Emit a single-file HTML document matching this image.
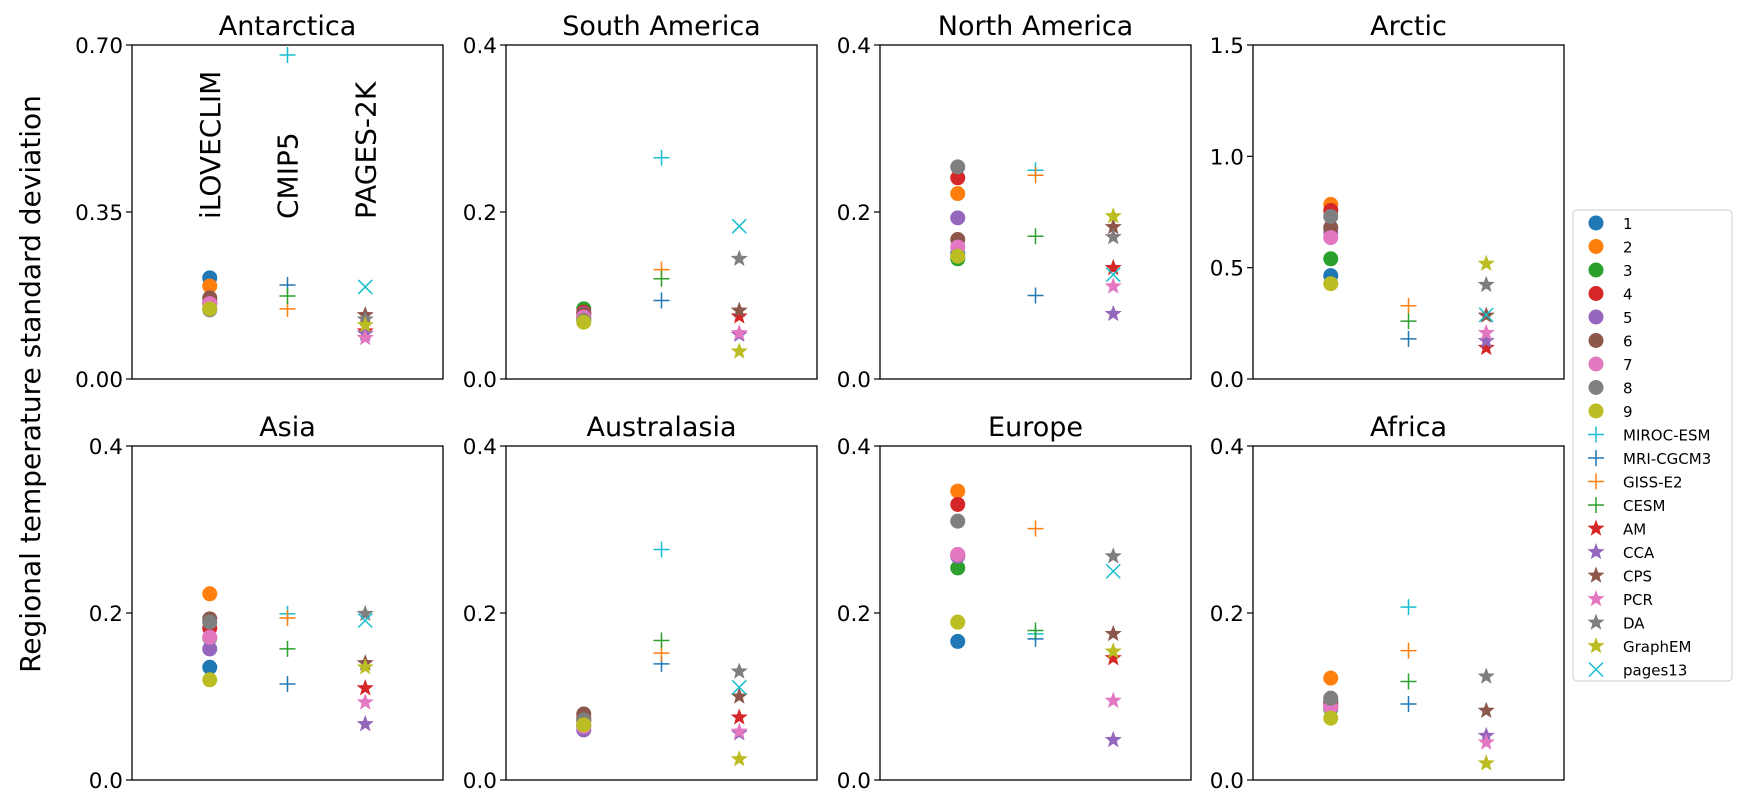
<!DOCTYPE html>
<html><head><meta charset="utf-8"><style>
html,body{margin:0;padding:0;background:#fff;}
svg{display:block;font-family:"DejaVu Sans","Liberation Sans",sans-serif;}
</style></head><body>
<svg id="chart" width="1748" height="804" viewBox="0 0 1748 804" xmlns="http://www.w3.org/2000/svg">
<text x="40" y="384" font-size="28" text-anchor="middle" transform="rotate(-90 40 384)">Regional temperature standard deviation</text>
<g id="panels"></g>
<g id="legend"></g>
</svg>
<script>
const regions = ["Antarctica","South America","North America","Arctic","Asia","Australasia","Europe","Africa"];
const yMax = [0.7,0.4,0.4,1.5,0.4,0.4,0.4,0.4];
const yTicks = [["0.00","0.35","0.70"],["0.0","0.2","0.4"],["0.0","0.2","0.4"],["0.0","0.5","1.0","1.5"],["0.0","0.2","0.4"],["0.0","0.2","0.4"],["0.0","0.2","0.4"],["0.0","0.2","0.4"]];
const circleLabels = ["1","2","3","4","5","6","7","8","9"];
const circleVals = [
 [0.212,0.195,0.158,0.160,0.162,0.170,0.158,0.145,0.147],
 [0.072,0.074,0.084,0.080,0.078,0.077,0.074,0.070,0.068],
 [0.150,0.222,0.144,0.241,0.193,0.167,0.158,0.254,0.147],
 [0.464,0.784,0.540,0.757,0.660,0.680,0.635,0.730,0.428],
 [0.135,0.223,0.170,0.182,0.157,0.193,0.171,0.189,0.120],
 [0.065,0.070,0.072,0.075,0.060,0.079,0.064,0.072,0.066],
 [0.166,0.346,0.254,0.330,0.268,0.270,0.270,0.310,0.189],
 [0.093,0.122,0.085,0.090,0.087,0.095,0.087,0.098,0.074]
];
const cmipLabels = ["MIROC-ESM","MRI-CGCM3","GISS-E2","CESM"];
const cmipVals = [
 [0.679,0.197,0.147,0.174],
 [0.265,0.094,0.131,0.120],
 [0.250,0.100,0.244,0.171],
 [null,0.180,0.329,0.260],
 [0.199,0.115,0.194,0.157],
 [0.276,0.139,0.152,0.167],
 [0.175,0.169,0.301,0.179],
 [0.207,0.091,0.155,0.118]
];
const pagesLabels = ["AM","CCA","CPS","PCR","DA","GraphEM","pages13"];
const pagesVals = [
 [0.100,0.095,0.134,0.086,0.125,0.113,0.193],
 [0.075,0.053,0.082,0.055,0.144,0.033,0.183],
 [0.133,0.078,0.182,0.111,0.170,0.195,0.125],
 [0.140,0.171,0.285,0.207,0.423,0.518,0.288],
 [0.110,0.067,0.140,0.093,0.199,0.135,0.191],
 [0.075,0.056,0.100,0.058,0.130,0.025,0.111],
 [0.146,0.048,0.175,0.095,0.268,0.154,0.250],
 [null,0.053,0.083,0.045,0.124,0.020,null]
];
const circleColors = ["#1f77b4","#ff7f0e","#2ca02c","#d62728","#9467bd","#8c564b","#e377c2","#7f7f7f","#bcbd22"];
const cmipColors = ["#17becf","#1f77b4","#ff7f0e","#2ca02c"];
const pagesColors = ["#d62728","#9467bd","#8c564b","#e377c2","#7f7f7f","#bcbd22","#17becf"];

const NS = "http://www.w3.org/2000/svg";
const panelsG = document.getElementById("panels");
const PW = 311, PH = 334;
const lefts = [132,506,880,1253];
const tops = [45,446];
function mk(tag, attrs, parent){ const e=document.createElementNS(NS,tag); for(const k in attrs) e.setAttribute(k,attrs[k]); if(parent) parent.appendChild(e); return e; }
function starPath(cx,cy,R){ let d=""; const r=R*0.42; for(let i=0;i<10;i++){ const a=-Math.PI/2+i*Math.PI/5; const rr=i%2?r:R; d+=(i?"L":"M")+(cx+rr*Math.cos(a)).toFixed(2)+","+(cy+rr*Math.sin(a)).toFixed(2);} return d+"Z"; }
function drawMarker(g,type,cx,cy,color){
  if(type==="circle") return mk("circle",{cx:cx,cy:cy,r:7.5,fill:color},g);
  if(type==="plus") return mk("path",{d:`M${cx-8},${cy}H${cx+8}M${cx},${cy-8}V${cy+8}`,stroke:color,"stroke-width":1.5,fill:"none"},g);
  if(type==="star") return mk("path",{d:starPath(cx,cy,9),fill:color},g);
  if(type==="x") return mk("path",{d:`M${cx-7},${cy-7}L${cx+7},${cy+7}M${cx-7},${cy+7}L${cx+7},${cy-7}`,stroke:color,"stroke-width":1.5,fill:"none"},g);
}
regions.forEach((name,i)=>{
  const L=lefts[i%4], T=tops[Math.floor(i/4)];
  const g=mk("g",{},panelsG);
  
  
  const yScale=v=>T+PH-v/yMax[i]*PH;
  const xScale=x=>L+x/4*PW;
  const title=mk("text",{x:L+PW/2,y:T-10,"font-size":27,"text-anchor":"middle"},g);
  title.textContent=name;
  
  
  const ticks=yTicks[i];
  ticks.forEach((t,k)=>{
    const y=yScale(parseFloat(t));
    mk("line",{x1:L-6,x2:L,y1:y,y2:y,stroke:"#000","stroke-width":1.2},g);
    const tl=mk("text",{x:L-9,y:y+8,"font-size":21.5,"text-anchor":"end"},g);
    tl.textContent=t;
    
    
  });
  const marks=mk("g",{},g);
  circleVals[i].forEach((v,k)=>{ if(v==null) return; const m=drawMarker(marks,"circle",xScale(1),yScale(v),circleColors[k]);
    
     });
  cmipVals[i].forEach((v,k)=>{ if(v==null) return; const m=drawMarker(marks,"plus",xScale(2),yScale(v),cmipColors[k]);
    
     });
  pagesVals[i].forEach((v,k)=>{ if(v==null) return; const m=drawMarker(marks,k===6?"x":"star",xScale(3),yScale(v),pagesColors[k]);
    
     });
  const frame=mk("rect",{x:L,y:T,width:PW,height:PH,fill:"none",stroke:"#000","stroke-width":1.3},g);
  
  
  if(i===0){
    ["iLOVECLIM","CMIP5","PAGES-2K"].forEach((s,k)=>{
      const x=xScale(k+1)+10, y=219;
      const t=mk("text",{x:x,y:y,"font-size":28,transform:`rotate(-90 ${x} ${y})`},g);
      t.textContent=s;
      
      
    });
  }
});
const lg=document.getElementById("legend");
const box=mk("rect",{x:1573,y:210,width:159,height:471,rx:4,fill:"#fff",stroke:"#ccc","stroke-width":1},lg);


const entries=[];
circleLabels.forEach((l,k)=>entries.push(["circle",circleColors[k],l]));
cmipLabels.forEach((l,k)=>entries.push(["plus",cmipColors[k],l]));
pagesLabels.forEach((l,k)=>entries.push([k===6?"x":"star",pagesColors[k],l]));
entries.forEach((e,k)=>{
  const y=223+k*23.5;
  const eg=mk("g",{},lg);
  
  
  drawMarker(eg,e[0],1596,y,e[1]);
  const t=mk("text",{x:1623,y:y+6,"font-size":15},eg);
  t.textContent=e[2];
});
</script>
</body></html>
